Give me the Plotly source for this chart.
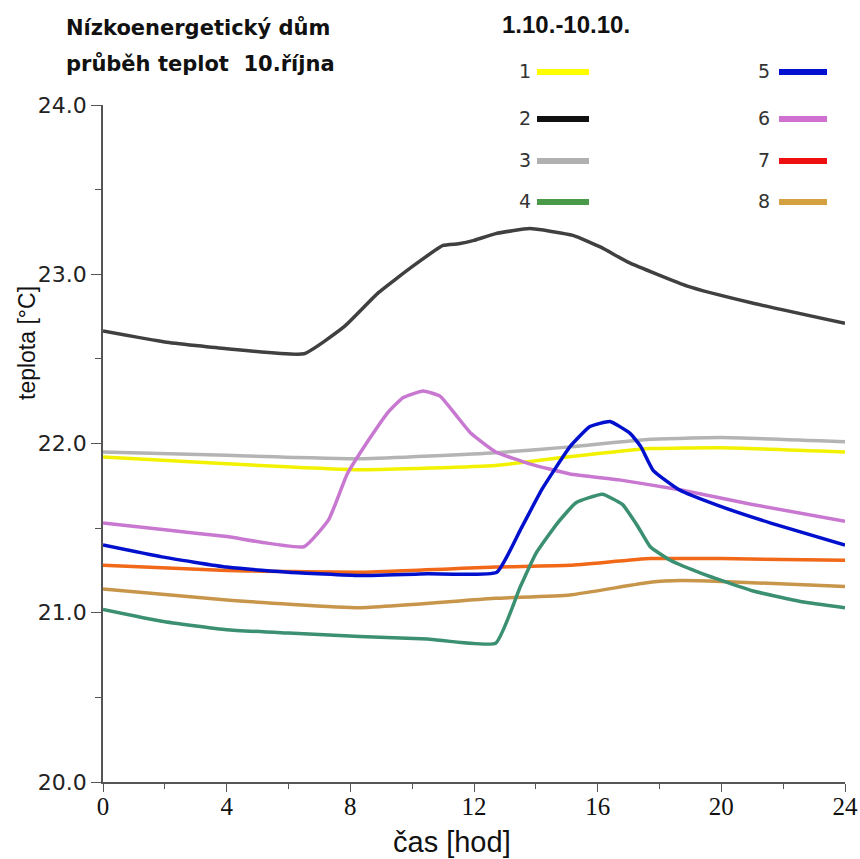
import plotly.graph_objects as go

# Hour of day and measured temperature (°C) for each sensor on 10 October
hours_1 = [0, 4, 8.4, 12.7, 15, 17.7, 20, 24]
temp_1 = [21.92, 21.88, 21.845, 21.87, 21.92, 21.97, 21.975, 21.95]

hours_2 = [0, 2, 4, 6.5, 7.8, 8.9, 10, 11, 11.5, 12, 12.7, 13.8, 15.2, 16.1, 17, 18.9, 21, 24]
temp_2 = [22.665, 22.60, 22.56, 22.53, 22.69, 22.89, 23.045, 23.17, 23.18, 23.20, 23.24, 23.27,
          23.23, 23.16, 23.07, 22.93, 22.83, 22.71]

hours_3 = [0, 4, 8.4, 12.7, 15.1, 17.7, 20, 24]
temp_3 = [21.95, 21.93, 21.91, 21.945, 21.98, 22.025, 22.035, 22.01]

hours_4 = [0, 1.9, 4, 6, 8.3, 10.5, 12.7, 13.5, 14.0, 14.7, 15.3, 16.15, 16.8, 17.3, 17.7,
           18.35, 19.4, 21, 22.6, 24]
temp_4 = [21.02, 20.95, 20.90, 20.88, 20.86, 20.845, 20.82, 21.155, 21.35, 21.53, 21.65, 21.70,
          21.64, 21.51, 21.39, 21.31, 21.23, 21.13, 21.065, 21.03]

hours_5 = [0, 1.9, 4, 6, 8.3, 10.5, 12.74, 13.5, 14.2, 15.1, 15.75, 16.4, 17.05, 17.4, 17.8,
           18.65, 19.95, 21.6, 24]
temp_5 = [21.40, 21.33, 21.27, 21.24, 21.22, 21.23, 21.24, 21.49, 21.73, 21.98, 22.10, 22.13,
          22.06, 21.98, 21.84, 21.725, 21.63, 21.53, 21.40]

hours_6 = [0, 2, 4, 6.5, 7.3, 7.9, 8.7, 9.2, 9.7, 10.35, 10.9, 11.45, 11.9, 12.7, 13.8, 15.1,
           16.7, 18.7, 21, 24]
temp_6 = [21.53, 21.49, 21.45, 21.39, 21.55, 21.82, 22.05, 22.18, 22.27, 22.31, 22.28, 22.16,
          22.06, 21.95, 21.88, 21.82, 21.785, 21.725, 21.64, 21.54]

hours_7 = [0, 4, 8.4, 12.7, 15.1, 17.7, 20, 24]
temp_7 = [21.28, 21.25, 21.24, 21.27, 21.28, 21.32, 21.32, 21.31]

hours_8 = [0, 4, 8.3, 12.7, 15.1, 17.7, 18.7, 20, 24]
temp_8 = [21.14, 21.075, 21.03, 21.085, 21.105, 21.18, 21.19, 21.185, 21.155]

series_names = ["1", "2", "3", "4", "5", "6", "7", "8"]
line_colors = ["#f2f200", "#404040", "#b4b4b4", "#3a9070", "#0010cc", "#c878d0", "#f06818", "#c8964a"]
key_colors = ["#ffff00", "#111111", "#b0b0b0", "#4a9a4a", "#0010d0", "#d070d0", "#ee1010", "#d4a040"]

x_ticks = [0, 4, 8, 12, 16, 20, 24]
y_ticks = [20, 21, 22, 23, 24]

all_hours = [hours_1, hours_2, hours_3, hours_4, hours_5, hours_6, hours_7, hours_8]
all_temps = [temp_1, temp_2, temp_3, temp_4, temp_5, temp_6, temp_7, temp_8]

W, H = 860, 859
ML, MR, MT, MB = 103, 15, 105, 77
PW, PH = W - ML - MR, H - MT - MB


def px(xp):
    return (xp - ML) / PW


def py(yp):
    return (H - MB - yp) / PH


fig = go.Figure()
draw_order = [0, 2, 7, 6, 3, 5, 4, 1]
for i in draw_order:
    fig.add_trace(go.Scatter(
        x=all_hours[i], y=all_temps[i], mode="lines", name=series_names[i],
        line=dict(color=line_colors[i], width=3.5, shape="spline", smoothing=0.4),
        showlegend=False, hoverinfo="skip"))

# Hand-laid key: number followed by a short coloured bar, two columns
key_rows_px = [72, 119, 161, 202]
key_cols = [(533, 537, 589), (772, 779, 827)]
shapes = []
annotations = []
for i, name in enumerate(series_names):
    col, row = divmod(i, 4)
    lx, x0, x1 = key_cols[col]
    yy = key_rows_px[row]
    shapes.append(dict(type="line", xref="paper", yref="paper",
                       x0=px(x0), x1=px(x1), y0=py(yy), y1=py(yy),
                       line=dict(color=key_colors[i], width=6)))
    annotations.append(dict(text=name, xref="paper", yref="paper", x=px(lx), y=py(yy - 1),
                            xanchor="right", yanchor="middle", showarrow=False,
                            font=dict(family="DejaVu Sans", size=19, color="#333333")))

annotations += [
    dict(text="Nízkoenergetický dům", xref="paper", yref="paper", x=px(64), y=py(28),
         xanchor="left", yanchor="middle", showarrow=False,
         font=dict(family="DejaVu Sans", size=21, color="#111111", weight="bold")),
    dict(text="průběh teplot  10.října", xref="paper", yref="paper", x=px(64), y=py(64),
         xanchor="left", yanchor="middle", showarrow=False,
         font=dict(family="DejaVu Sans", size=21, color="#111111", weight="bold")),
    dict(text="1.10.-10.10.", xref="paper", yref="paper", x=px(500), y=py(25),
         xanchor="left", yanchor="middle", showarrow=False,
         font=dict(family="Liberation Sans", size=24, color="#111111", weight="bold")),
    dict(text="čas [hod]", xref="paper", yref="paper", x=px(452), y=py(842),
         xanchor="center", yanchor="middle", showarrow=False,
         font=dict(family="Liberation Sans Narrow, Liberation Sans", size=29, color="#111111")),
    dict(text="teplota [°C]", xref="paper", yref="paper", x=px(27), y=py(343),
         xanchor="center", yanchor="middle", showarrow=False, textangle=-90,
         font=dict(family="Liberation Sans", size=23, color="#111111")),
]

fig.update_layout(
    width=W, height=H, autosize=False,
    margin=dict(l=ML, r=MR, t=MT, b=MB, pad=0),
    paper_bgcolor="white", plot_bgcolor="white",
    shapes=shapes, annotations=annotations,
    xaxis=dict(range=[0, 24], tickvals=x_ticks, ticktext=[str(v) for v in x_ticks],
               automargin=False,
               ticks="outside", ticklen=8, tickwidth=1.2, tickcolor="#555555",
               ticklabelstandoff=-7,
               minor=dict(dtick=2, ticks="outside", ticklen=5, tickwidth=1.2, tickcolor="#555555"),
               showline=True, linecolor="#555555", linewidth=1.5, showgrid=False, zeroline=False,
               tickfont=dict(family="Times New Roman, Liberation Serif, DejaVu Serif, serif",
                             size=25, color="#111111")),
    yaxis=dict(range=[20, 24], tickvals=y_ticks, ticktext=[f"{v:.1f}" for v in y_ticks],
               automargin=False,
               ticks="outside", ticklen=10, tickwidth=1.2, tickcolor="#555555",
               minor=dict(dtick=0.5, ticks="outside", ticklen=6, tickwidth=1.2, tickcolor="#555555"),
               showline=True, linecolor="#555555", linewidth=1.5, showgrid=False, zeroline=False,
               tickfont=dict(family="DejaVu Sans", size=22, color="#222222")),
)

fig.write_html("out.html")
